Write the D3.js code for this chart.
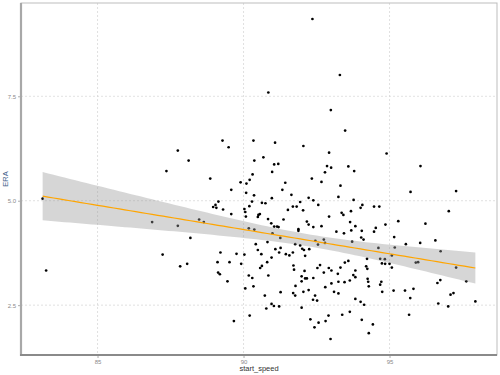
<!DOCTYPE html>
<html>
<head>
<meta charset="utf-8">
<script src="https://cdn.jsdelivr.net/npm/d3@7"></script>
<style>
  html, body { margin: 0; padding: 0; background: #fff; }
  svg { display: block; }
</style>
</head>
<body>
<svg id="chart" width="500" height="375"></svg>
<script>
// ---- data ----
const startSpeed = [
83.12,83.24,92.36,93.30,90.85,92.99,89.28,89.49,87.75,88.12,
87.36,88.86,89.90,90.10,90.21,90.31,90.34,90.37,89.58,90.09,
90.36,89.14,90.29,89.04,88.96,89.07,89.30,90.03,90.20,90.06,
89.58,90.08,86.87,87.75,88.48,88.64,90.18,90.37,88.18,87.23,
89.21,89.76,90.03,89.11,89.52,88.07,87.83,89.92,89.13,89.19,
90.18,90.30,89.45,90.34,90.06,90.21,89.67,93.48,91.08,92.05,
92.93,90.68,91.05,91.19,92.86,93.00,93.59,93.79,90.98,92.79,
92.34,91.43,92.67,93.32,91.33,91.64,90.97,92.23,92.39,93.25,
93.77,90.63,90.75,91.94,92.56,94.07,94.01,91.69,91.82,91.52,
92.04,93.68,90.56,90.51,90.49,93.36,93.42,92.93,90.84,91.37,
92.17,90.95,92.23,91.05,91.15,91.20,91.88,91.88,92.39,92.67,
93.65,93.83,93.18,93.44,93.69,94.05,90.99,94.90,96.06,95.72,
97.28,94.47,94.65,97.03,95.30,94.86,96.23,94.53,94.47,91.26,
90.82,90.42,90.49,90.61,91.09,91.27,91.22,91.45,91.57,91.69,
91.77,91.94,92.01,92.07,92.25,92.11,92.46,92.55,92.75,92.79,
93.72,94.03,94.11,90.96,90.81,90.63,90.57,91.71,91.73,92.09,
92.53,92.62,92.75,92.92,93.01,93.32,93.23,93.47,93.59,93.83,
93.76,93.83,90.85,91.99,92.11,92.17,92.39,91.99,93.01,93.25,
93.46,93.64,91.78,92.80,92.23,92.05,91.70,91.27,93.10,93.25,
91.77,90.73,92.45,92.38,92.52,93.83,94.01,94.13,90.96,91.04,
91.22,90.78,91.99,93.64,93.38,92.91,92.29,92.81,92.57,94.05,
92.43,92.98,95.16,95.56,96.05,96.57,94.62,95.18,96.75,94.23,
94.68,94.84,94.74,94.85,95.00,95.08,94.20,94.24,95.08,95.90,
95.98,97.28,94.25,94.27,94.29,94.72,94.68,94.75,95.14,95.53,
95.82,95.71,96.64,96.74,97.63,97.09,97.19,96.67,97.01,97.94,
95.67,94.43,94.29
];
const era = [
5.05,3.33,9.35,8.01,7.59,7.17,6.44,6.28,6.20,5.96,
5.71,5.53,5.44,5.41,5.50,5.63,6.44,5.96,5.26,5.19,
5.13,4.98,4.98,4.90,4.85,4.83,4.79,4.80,4.87,4.73,
4.68,4.62,4.49,4.40,4.55,4.49,4.34,4.31,4.11,3.71,
3.76,3.73,3.71,3.53,3.53,3.49,3.43,3.49,3.28,3.24,
3.21,3.15,3.07,2.95,2.90,2.25,2.12,6.68,6.39,6.31,
6.15,6.04,5.87,5.88,5.83,5.79,5.82,5.71,5.69,5.68,
5.53,5.43,5.45,5.36,5.26,5.14,5.06,5.07,5.01,5.09,
5.02,4.95,4.94,4.97,4.90,4.90,4.83,4.86,4.86,4.78,
4.77,4.75,4.68,4.66,4.61,4.71,4.66,4.62,4.56,4.55,
4.50,4.46,4.43,4.38,4.38,4.37,4.32,4.28,4.37,4.39,
4.49,4.39,4.26,4.22,4.29,4.28,4.22,6.13,5.83,5.21,
5.23,4.86,4.86,4.75,4.51,4.43,4.45,4.35,4.26,4.11,
4.01,3.96,3.82,3.72,3.84,3.87,3.76,3.72,3.69,3.76,
3.96,3.93,3.85,3.82,3.84,3.68,4.04,3.95,4.07,3.99,
4.02,4.12,4.07,3.64,3.53,3.44,3.39,3.45,3.35,3.32,
3.39,3.46,3.28,3.39,3.33,3.40,3.25,3.52,3.56,3.33,
3.22,3.17,3.21,3.19,3.14,3.14,3.15,3.07,3.02,3.06,
3.05,3.09,2.96,2.93,2.86,2.82,2.79,2.81,2.82,2.78,
2.73,2.73,2.73,2.63,2.61,2.65,2.58,2.51,2.53,2.48,
2.47,2.42,2.44,2.34,2.27,2.25,2.16,2.12,2.08,2.15,
1.97,1.69,4.13,3.96,3.99,4.05,3.87,3.88,3.79,3.61,
3.61,3.60,3.50,3.49,3.49,3.69,3.43,3.37,3.40,3.52,
3.53,3.40,3.13,3.06,2.95,3.06,2.99,2.82,2.85,2.85,
2.89,2.67,3.03,3.10,3.07,2.75,2.79,2.54,2.47,2.59,
2.27,2.04,1.83
];
const xTicks = [85, 90, 95];
const yTicks = [2.5, 5.0, 7.5];
const yTickLabels = ["2.5", "5.0", "7.5"];
const xTitle = "start_speed";
const yTitle = "ERA";

// ---- layout ----
const svg = d3.select("#chart");
const W = 500, H = 375;
const panel = {left: 21, right: 497, top: 3, bottom: 355};

const points = startSpeed.map((s, i) => ({x: s, y: era[i]}));
const xExt = d3.extent(startSpeed), yExt = d3.extent(era);
const xPad = (xExt[1] - xExt[0]) * 0.05, yPad = (yExt[1] - yExt[0]) * 0.05;

const x = d3.scaleLinear().domain([xExt[0] - xPad, xExt[1] + xPad]).range([panel.left, panel.right]);
const y = d3.scaleLinear().domain([yExt[0] - yPad, yExt[1] + yPad]).range([panel.bottom, panel.top]);

// ---- grid ----
const grid = svg.append("g");
grid.selectAll("line.vx").data(xTicks).join("line")
  .attr("x1", d => x(d)).attr("x2", d => x(d))
  .attr("y1", panel.top).attr("y2", panel.bottom)
  .attr("stroke", "#d4d4d4").attr("stroke-width", 0.7).attr("stroke-dasharray", "2,2");
grid.selectAll("line.hy").data(yTicks).join("line")
  .attr("y1", d => y(d)).attr("y2", d => y(d))
  .attr("x1", panel.left).attr("x2", panel.right)
  .attr("stroke", "#d4d4d4").attr("stroke-width", 0.7).attr("stroke-dasharray", "2,2");

// ---- linear model with 95% CI ----
const n = points.length;
const mx = d3.mean(startSpeed), my = d3.mean(era);
let sxx = 0, sxy = 0;
points.forEach(p => { sxx += (p.x - mx) ** 2; sxy += (p.x - mx) * (p.y - my); });
const slope = sxy / sxx, intercept = my - slope * mx;
let sse = 0;
points.forEach(p => { sse += (p.y - (intercept + slope * p.x)) ** 2; });
const s2 = sse / (n - 2);
const tq = 1.9695;
const grid80 = d3.range(80).map(i => xExt[0] + (xExt[1] - xExt[0]) * i / 79);
const fit = grid80.map(xv => {
  const yh = intercept + slope * xv;
  const se = Math.sqrt(s2 * (1 / n + (xv - mx) ** 2 / sxx));
  return {x: xv, y: yh, lo: yh - tq * se, hi: yh + tq * se};
});

// ---- points ----
svg.append("g").selectAll("circle").data(points).join("circle")
  .attr("cx", d => x(d.x)).attr("cy", d => y(d.y)).attr("r", 1.35)
  .attr("fill", "#000");

// ---- band and line ----
svg.append("path").datum(fit)
  .attr("d", d3.area().x(d => x(d.x)).y0(d => y(d.lo)).y1(d => y(d.hi)))
  .attr("fill", "#999999").attr("fill-opacity", 0.4);
svg.append("path").datum(fit)
  .attr("d", d3.line().x(d => x(d.x)).y(d => y(d.y)))
  .attr("fill", "none").attr("stroke", "#FFA500").attr("stroke-width", 1.2);

// ---- panel frame ----
svg.append("rect")
  .attr("x", panel.left).attr("y", panel.top)
  .attr("width", panel.right - panel.left).attr("height", panel.bottom - panel.top)
  .attr("fill", "none").attr("stroke", "#bdbdbd").attr("stroke-width", 1);
svg.append("line").attr("x1", panel.left).attr("x2", panel.left)
  .attr("y1", panel.top).attr("y2", panel.bottom + 1)
  .attr("stroke", "#a8a8a8").attr("stroke-width", 2.2);
svg.append("line").attr("x1", panel.left - 1).attr("x2", panel.right)
  .attr("y1", panel.bottom).attr("y2", panel.bottom)
  .attr("stroke", "#8a8a8a").attr("stroke-width", 1.8);

// ---- axes ----
const xAxis = d3.axisBottom(x).tickValues(xTicks).tickSize(2).tickPadding(2).tickFormat(d3.format("d"));
const gx = svg.append("g").attr("transform", `translate(0,${panel.bottom + 1})`).call(xAxis);
const yAxis = d3.axisLeft(y).tickValues(yTicks).tickSize(2).tickPadding(2).tickFormat((d, i) => yTickLabels[i]);
const gy = svg.append("g").attr("transform", `translate(${panel.left - 1},0)`).call(yAxis);
[gx, gy].forEach(g => {
  g.select(".domain").remove();
  g.selectAll(".tick line").attr("stroke", "#999").attr("stroke-width", 0.8);
  g.selectAll(".tick text").attr("fill", "#8a8a8a").attr("font-size", "6px")
    .attr("font-family", "Liberation Sans, Arial, sans-serif");
});

svg.append("text")
  .attr("x", (panel.left + panel.right) / 2).attr("y", 371)
  .attr("text-anchor", "middle")
  .attr("font-family", "Liberation Sans, Arial, sans-serif").attr("font-size", "7.5px")
  .attr("fill", "#333").text(xTitle);
svg.append("text")
  .attr("transform", `translate(8,${(panel.top + panel.bottom) / 2}) rotate(-90)`)
  .attr("text-anchor", "middle")
  .attr("font-family", "Liberation Sans, Arial, sans-serif").attr("font-size", "7.5px")
  .attr("fill", "#46648c").text(yTitle);
</script>
</body>
</html>
